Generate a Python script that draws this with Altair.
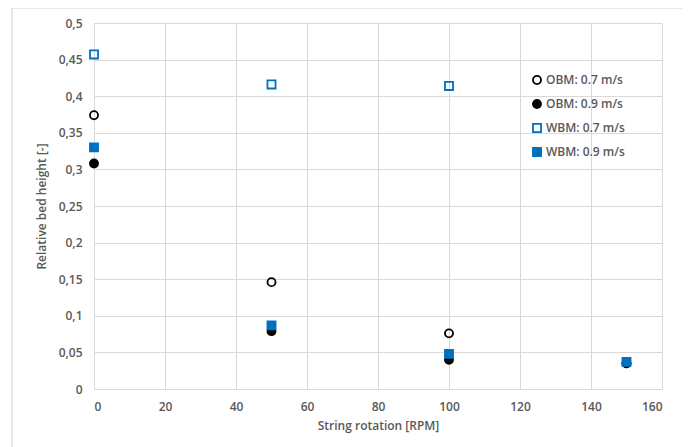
import altair as alt
import pandas as pd

series_names = ["OBM: 0.7 m/s", "OBM: 0.9 m/s", "WBM: 0.7 m/s", "WBM: 0.9 m/s"]
rpm_obm07 = [0, 50, 100, 150]
val_obm07 = [0.374, 0.146, 0.076, 0.035]
rpm_obm09 = [0, 50, 100, 150]
val_obm09 = [0.308, 0.079, 0.040, 0.035]
rpm_wbm07 = [0, 50, 100]
val_wbm07 = [0.457, 0.416, 0.414]
rpm_wbm09 = [0, 50, 100, 150]
val_wbm09 = [0.330, 0.087, 0.048, 0.037]

x_ticks = [0, 20, 40, 60, 80, 100, 120, 140, 160]
y_ticks = [0, 0.05, 0.1, 0.15, 0.2, 0.25, 0.3, 0.35, 0.4, 0.45, 0.5]

rows = []
for name, xs, ys in zip(series_names,
                        [rpm_obm07, rpm_obm09, rpm_wbm07, rpm_wbm09],
                        [val_obm07, val_obm09, val_wbm07, val_wbm09]):
    for xv, yv in zip(xs, ys):
        rows.append({"series": name, "rpm": xv, "h": yv, "order": series_names.index(name)})
df = pd.DataFrame(rows)

FONT = "Open Sans"
GRAY = "#595959"
BLUE = "#0070C0"

legend = alt.Legend(
    title=None, orient="none", legendX=437, legendY=51,
    labelFont=FONT, labelFontSize=12, labelColor=GRAY, labelFontWeight=600,
    rowPadding=8, symbolSize=65, symbolStrokeWidth=1.8, labelOffset=3,
)

points = alt.Chart(df).mark_point(size=65, strokeWidth=1.8, opacity=1).encode(
    x=alt.X("rpm:Q", scale=alt.Scale(domain=[0, 160], nice=False),
            axis=alt.Axis(values=x_ticks, title="String rotation [RPM]", grid=True,
                          gridColor="#d9d9d9", domain=False, ticks=False,
                          labelFont=FONT, labelFontSize=12, labelColor=GRAY, labelFontWeight=600,
                          labelPadding=12, titleFont=FONT, titleFontSize=12,
                          titleColor=GRAY, titleFontWeight=600, titlePadding=8)),
    y=alt.Y("h:Q", scale=alt.Scale(domain=[0, 0.5], nice=False),
            axis=alt.Axis(values=y_ticks, title="Relative bed height [-]", grid=True,
                          gridColor="#d9d9d9", domain=False, ticks=False,
                          labelExpr="replace(toString(datum.value), '.', ',')",
                          labelFont=FONT, labelFontSize=12, labelColor=GRAY, labelFontWeight=600,
                          labelPadding=12, titleFont=FONT, titleFontSize=12,
                          titleColor=GRAY, titleFontWeight=600, titlePadding=10)),
    shape=alt.Shape("series:N", scale=alt.Scale(domain=series_names,
                    range=["circle", "circle", "square", "square"]), legend=legend),
    fill=alt.Fill("series:N", scale=alt.Scale(domain=series_names,
                  range=["transparent", "black", "transparent", BLUE]), legend=legend),
    stroke=alt.Stroke("series:N", scale=alt.Scale(domain=series_names,
                      range=["black", "black", BLUE, BLUE]), legend=legend),
    order=alt.Order("order:Q"),
)

frame = alt.Chart(pd.DataFrame({"a": [0]})).mark_rect(
    fill="transparent", stroke="#d0d0d0", strokeWidth=1, clip=False
).encode(x=alt.value(-82), x2=alt.value(596), y=alt.value(-15), y2=alt.value(445))

chart = alt.layer(frame, points).properties(
    width=568, height=366,
    autosize=alt.AutoSizeParams(type="none"),
    padding={"left": 86, "top": 15, "right": 20, "bottom": 58},
).configure_view(stroke="#d9d9d9").configure(background="white")

chart.save("out.html", embed_options={"renderer": "svg", "actions": False})
